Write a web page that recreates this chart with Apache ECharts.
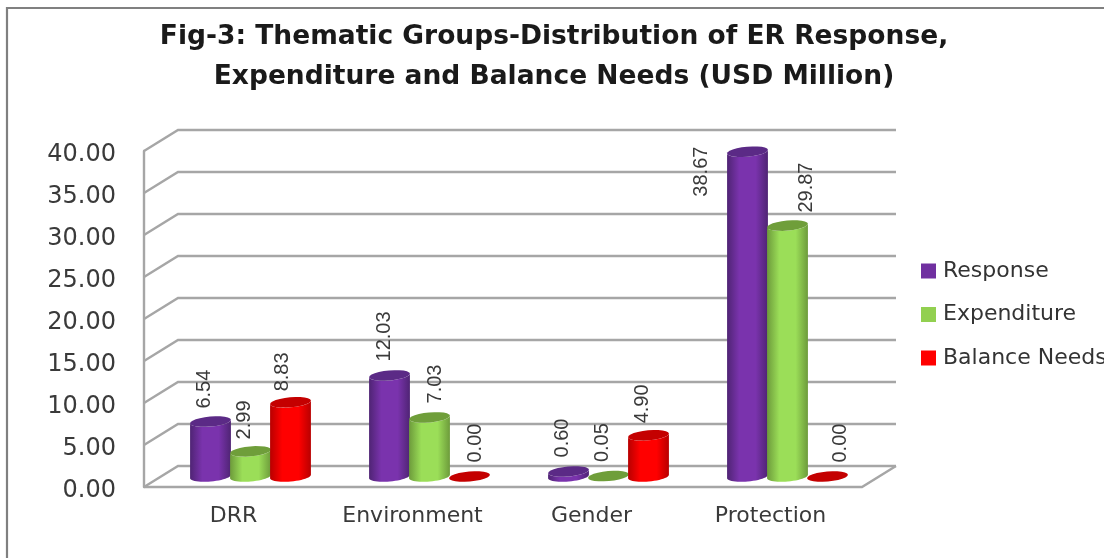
<!DOCTYPE html>
<html><head><meta charset="utf-8">
<style>html,body{margin:0;padding:0;background:#fff}#c{width:1104px;height:558px}</style>
<script src="https://cdn.jsdelivr.net/npm/echarts@6/dist/echarts.min.js"></script>
</head><body><div id="c"></div>
<script>
const titleText = 'Fig-3: Thematic Groups-Distribution of ER Response,\nExpenditure and Balance Needs (USD Million)';
const categories = ['DRR', 'Environment', 'Gender', 'Protection'];
const yTicks = [0, 5, 10, 15, 20, 25, 30, 35, 40];
const response = [6.54, 12.03, 0.60, 38.67];
const expenditure = [2.99, 7.03, 0.05, 29.87];
const balanceNeeds = [8.83, 0.00, 4.90, 0.00];
const seriesNames = ['Response', 'Expenditure', 'Balance Needs'];

/* 3D look: depth offset of the back wall, in px */
const depthX = 34, depthY = -21, barOffset = 40, rx = 20.5, ry = 5, tilt = -0.09, floorOverhang = 2;
const looks = [
  { legend: '#7030a0', edge: '#4f2474', mid: '#7a33ad', top: '#5b2a86' },
  { legend: '#92d050', edge: '#6d9b3b', mid: '#9bde58', top: '#6f9e3a' },
  { legend: '#ff0000', edge: '#b80000', mid: '#ff0000', top: '#c40000' }
];
/* manual data-label nudges (px) [series][category] = [dx, dy] relative to the cylinder top */
const labelNudge = [
  [[-6, -13], [-5, -14], [-6.5, -14], [-46.5, 45]],
  [[-6, -12], [5.5, -14], [-6.5, -14], [19, -13]],
  [[-8, -11], [5.5, -14], [-6.5, -12], [12.5, -14]]
];

function ellipsePts(cx, cy, from, to) {
  const pts = [];
  for (let i = 0; i <= 24; i++) {
    const a = from + (to - from) * i / 24;
    const x = rx * Math.cos(a), y = ry * Math.sin(a);
    pts.push([cx + x * Math.cos(tilt) - y * Math.sin(tilt), cy + x * Math.sin(tilt) + y * Math.cos(tilt)]);
  }
  return pts;
}

function cylinder(sIdx) {
  return function (params, api) {
    const cat = api.value(0), val = api.value(1);
    const front = api.coord([cat, 0]), topFront = api.coord([cat, val]);
    const cx = front[0] + depthX / 2 + (sIdx - 1) * barOffset;
    const by = front[1] + depthY / 2, ty = topFront[1] + depthY / 2;
    const look = looks[sIdx];
    const children = [];
    if (by - ty > 0.6) {
      const body = ellipsePts(cx, by, 0, Math.PI).concat(ellipsePts(cx, ty, Math.PI, 0));
      children.push({
        type: 'polygon', shape: { points: body },
        style: {
          fill: { type: 'linear', x: 0, y: 0, x2: 1, y2: 0, colorStops: [
            { offset: 0, color: look.edge }, { offset: 0.3, color: look.mid },
            { offset: 0.7, color: look.mid }, { offset: 1, color: look.edge }] }
        }
      });
    }
    children.push({ type: 'polygon', shape: { points: ellipsePts(cx, ty, 0, Math.PI * 2) }, style: { fill: look.top } });
    const n = labelNudge[sIdx][params.dataIndex];
    children.push({
      type: 'text', x: cx + n[0], y: ty + n[1], rotation: Math.PI / 2,
      style: { text: val.toFixed(2), x: 0, y: 0, align: 'left', verticalAlign: 'middle',
               fill: '#3a3a3a', font: '20px "Liberation Sans", Arial, sans-serif' }
    });
    return { type: 'group', children };
  };
}

function walls(params, api) {
  const v = api.value(0);
  const a = api.coord([0, v]);
  const x0 = params.coordSys.x, x1 = x0 + params.coordSys.width + floorOverhang, y = a[1];
  const style = { stroke: '#a6a6a6', lineWidth: 2.4, fill: 'none' };
  const kids = [
    { type: 'polyline', shape: { points: [[x0, y], [x0 + depthX, y + depthY], [x1 + depthX, y + depthY]] }, style }
  ];
  if (v === 0) kids.push({ type: 'polyline', shape: { points: [[x0, y], [x1, y], [x1 + depthX, y + depthY]] }, style });
  return { type: 'group', children: kids };
}

const sources = [response, expenditure, balanceNeeds];
const bars = seriesNames.map((name, s) => ({
  name, type: 'custom', z: 3 + s, clip: false,
  coordinateSystem: 'cartesian2d',
  itemStyle: { color: looks[s].legend },
  encode: { x: 0, y: 1 },
  renderItem: cylinder(s),
  data: sources[s].map((v, i) => [i, v])
}));

const chart = echarts.init(document.getElementById('c'), null, { renderer: 'canvas' });
chart.setOption({
  animation: false,
  backgroundColor: '#fff',
  title: {
    text: titleText, left: 549, top: 12, textAlign: 'center',
    textStyle: { fontFamily: '"DejaVu Sans"', fontWeight: 'bold', fontSize: 26.5, lineHeight: 40, color: '#1a1a1a' }
  },
  legend: {
    data: seriesNames.map(name => ({ name, icon: 'rect' })), orient: 'vertical', left: 916, top: 255,
    itemWidth: 15, itemHeight: 15, itemGap: 21.5, selectedMode: false,
    textStyle: { fontFamily: '"DejaVu Sans"', fontSize: 22, color: '#333', padding: [0, 0, 0, 2] }
  },
  grid: { left: 144, top: 151, width: 716, height: 336, containLabel: false },
  xAxis: {
    type: 'category', data: categories,
    axisLine: { show: false },
    axisTick: { show: false },
    axisLabel: { interval: 0, margin: 18, fontFamily: '"DejaVu Sans"', fontSize: 22, color: '#3a3a3a' }
  },
  yAxis: {
    type: 'value', min: 0, max: 40, interval: 5,
    axisLine: { show: true, lineStyle: { color: '#a6a6a6', width: 2.4 } },
    axisTick: { show: false }, splitLine: { show: false },
    axisLabel: { margin: 28, fontFamily: '"DejaVu Sans"', fontSize: 24, color: '#3a3a3a',
                 verticalAlign: 'top', lineHeight: 8, formatter: v => v.toFixed(2) }
  },
  graphic: [
    { type: 'polyline', silent: true, z: -1,
      shape: { points: [[7, 558], [7, 8], [1104, 8]] },
      style: { stroke: '#808080', lineWidth: 2.2, fill: 'none' } }
  ],
  series: [{
    type: 'custom', name: 'walls', z: 1, clip: false, silent: true,
    coordinateSystem: 'cartesian2d', encode: { y: 0 },
    renderItem: walls, data: yTicks.map(v => [v])
  }].concat(bars)
});
</script></body></html>
